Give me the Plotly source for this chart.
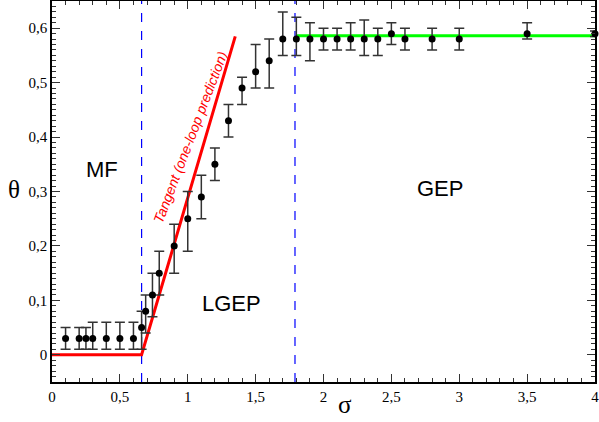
import plotly.graph_objects as go

# data
sigma = [0.1, 0.2, 0.25, 0.3, 0.4, 0.5, 0.6, 0.66, 0.69, 0.74, 0.79, 0.9, 1.0, 1.1, 1.2,
         1.3, 1.4, 1.5, 1.6, 1.7, 1.8, 1.9, 2.0, 2.1, 2.2, 2.3, 2.4, 2.5, 2.6, 2.8, 3.0, 3.5, 4.0]
theta = [0.03, 0.03, 0.03, 0.03, 0.03, 0.03, 0.03, 0.05, 0.08, 0.11, 0.15, 0.20, 0.25, 0.29, 0.35,
         0.43, 0.49, 0.52, 0.54, 0.58, 0.58, 0.58, 0.58, 0.58, 0.58, 0.58, 0.58, 0.59, 0.58, 0.58, 0.58, 0.59, 0.59]
err_up = [0.02, 0.02, 0.02, 0.03, 0.03, 0.03, 0.03, 0.03, 0.03, 0.04, 0.04, 0.04, 0.05, 0.04, 0.03,
          0.03, 0.02, 0.05, 0.04, 0.05, 0.04, 0.03, 0.02, 0.02, 0.03, 0.035, 0.02, 0.02, 0.02, 0.02, 0.02, 0.02, 0.005]
err_dn = [0.02, 0.02, 0.02, 0.02, 0.02, 0.02, 0.02, 0.04, 0.04, 0.04, 0.04, 0.05, 0.06, 0.04, 0.03,
          0.03, 0.03, 0.03, 0.05, 0.03, 0.03, 0.04, 0.02, 0.02, 0.02, 0.03, 0.03, 0.02, 0.02, 0.02, 0.02, 0.01, 0.005]

tangent_x = [0, 0.66, 1.35]
tangent_y = [0, 0, 0.585]
gep_x = [1.8, 4.0]
gep_y = [0.586, 0.586]
boundaries = [0.66, 1.79]

xticks = [0, 0.5, 1, 1.5, 2, 2.5, 3, 3.5, 4]
xticktext = ["0", "0,5", "1", "1,5", "2", "2,5", "3", "3,5", "4"]
yticks = [0, 0.1, 0.2, 0.3, 0.4, 0.5, 0.6]
yticktext = ["0", "0,1", "0,2", "0,3", "0,4", "0,5", "0,6"]

fig = go.Figure()

for b in boundaries:
    fig.add_trace(go.Scatter(x=[b, b], y=[-0.05, 0.65], mode="lines",
                             line=dict(color="#0000ff", width=1.2, dash="dash"), showlegend=False))

fig.add_trace(go.Scatter(x=tangent_x, y=tangent_y, mode="lines",
                         line=dict(color="#ff0000", width=3), showlegend=False))
fig.add_trace(go.Scatter(x=gep_x, y=gep_y, mode="lines",
                         line=dict(color="#00ff00", width=3), showlegend=False))

fig.add_trace(go.Scatter(
    x=sigma, y=theta, mode="markers", cliponaxis=False,
    marker=dict(color="black", size=7),
    error_y=dict(type="data", symmetric=False, array=err_up, arrayminus=err_dn,
                 color="#333333", thickness=1.5, width=5),
    showlegend=False))

serif = "Liberation Serif"
sans = "Liberation Sans"

fig.add_annotation(x=0.37, y=0.34, text="MF", showarrow=False, font=dict(family=sans, size=22, color="black"))
fig.add_annotation(x=1.32, y=0.095, text="LGEP", showarrow=False, font=dict(family=sans, size=22, color="black"))
fig.add_annotation(x=2.86, y=0.305, text="GEP", showarrow=False, font=dict(family=sans, size=22, color="black"))
fig.add_annotation(x=1.02, y=0.40, text="<i>Tangent (one-loop prediction)</i>", showarrow=False,
                   textangle=-69, font=dict(family=sans, size=14, color="#ff0000"))

# axis titles placed by hand
fig.add_annotation(xref="paper", yref="paper", x=0.54, y=-0.06, yanchor="middle", text="σ",
                   showarrow=False, font=dict(family=serif, size=25, color="black"))
fig.add_annotation(xref="paper", yref="paper", x=-0.07, y=0.505, xanchor="center", text="θ",
                   showarrow=False, font=dict(family=serif, size=25, color="black"))

axis_common = dict(showline=True, linecolor="black", linewidth=1.5, mirror="allticks",
                   ticks="inside", ticklen=8, tickcolor="#333333", showgrid=False, zeroline=False,
                   automargin=False, ticklabeloverflow="allow",
                   tickfont=dict(family=serif, size=15, color="black"))

fig.update_xaxes(range=[0, 4], tickvals=xticks, ticktext=xticktext,
                 minor=dict(ticks="inside", dtick=0.1, ticklen=4, tickcolor="#333333"),
                 **axis_common)
fig.update_yaxes(range=[-0.05, 0.65], tickvals=yticks, ticktext=yticktext,
                 minor=dict(ticks="inside", dtick=0.01, ticklen=4, tickcolor="#333333"),
                 **axis_common)

fig.update_layout(width=599, height=422, margin=dict(l=52, r=4, t=1, b=40),
                  plot_bgcolor="white", paper_bgcolor="white")

fig.write_html("out.html", config={"displayModeBar": False},
               post_script="document.body.style.margin='0';")
